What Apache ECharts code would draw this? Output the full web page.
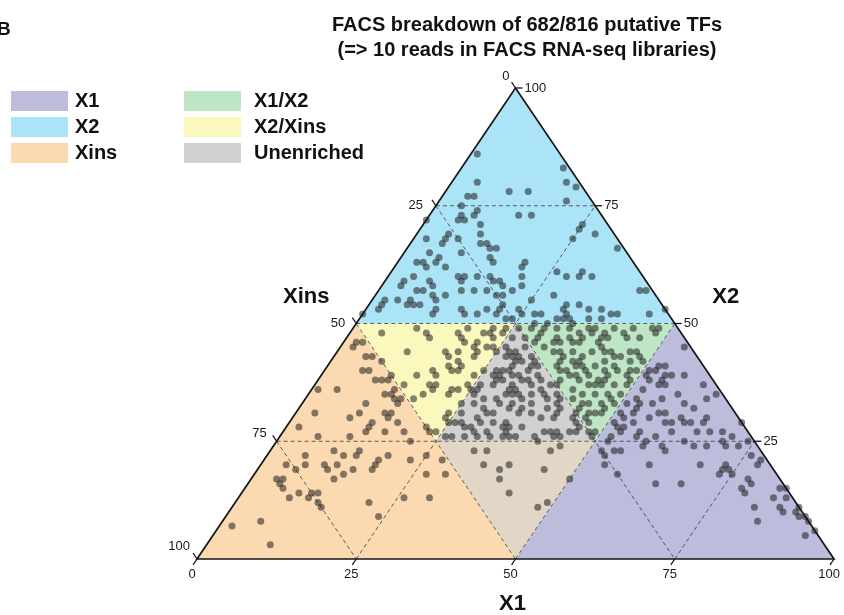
<!DOCTYPE html>
<html>
<head>
<meta charset="utf-8">
<title>FACS breakdown of putative TFs</title>
<script src="https://cdn.jsdelivr.net/npm/echarts@6/dist/echarts.min.js"></script>
<style>
  html, body { margin: 0; padding: 0; background: #ffffff; }
  #chart { width: 844px; height: 615px; }
</style>
</head>
<body>
<div id="chart"></div>
<script>
// Share of FACS reads for each TF, in percent: [X1, X2, Xins]
const tfShares = [
  [1,86,13],[4,80,16],[10,78,12],[13,78,9],[16,83,1],[18,80,2],[20,79,1],[20,76,4],[4,77,19],[5,77,18],
  [4,75,21],[7,74,19],[7,73,20],[5,73,22],[6,72,22],[14,73,13],[16,73,11],[5,72,23],[9,71,20],[0,72,28],
  [25,71,4],[25,70,5],[28,69,3],[10,69,21],[5,69,26],[5,68,27],[7,68,25],[5,67,28],[2,68,30],[11,67,22],
  [12,67,21],[13,66,21],[14,66,20],[25,68,7],[33,66,1],[9,65,26],[4,65,31],[14,64,22],[15,63,22],[6,64,30],
  [3,63,34],[4,63,33],[6,63,31],[8,62,30],[5,62,33],[20,63,17],[20,62,18],[21,60,19],[26,61,13],[30,61,9],
  [30,60,10],[28,60,12],[32,60,8],[3,59,38],[4,60,36],[3,58,39],[7,59,34],[8,58,34],[11,60,29],[12,60,28],
  [12,59,29],[14,60,26],[16,60,24],[17,59,24],[18,59,23],[19,58,23],[21,57,22],[22,58,20],[7,57,36],[6,57,37],
  [13,57,30],[15,57,28],[17,57,26],[19,56,25],[20,56,24],[9,56,35],[11,56,33],[2,55,43],[4,55,41],[6,55,39],
  [6,54,40],[8,54,38],[7,54,39],[10,55,35],[28,56,16],[41,57,2],[42,57,1],[2,53,45],[2,54,44],[0,52,48],
  [11,53,36],[11,52,37],[15,53,32],[16,52,32],[18,52,30],[19,53,28],[21,52,27],[21,54,25],[21,53,26],[25,55,20],
  [24,53,23],[25,52,23],[27,52,21],[28,52,20],[24,51,25],[23,51,26],[31,54,15],[31,53,16],[33,54,13],[35,53,12],
  [37,53,10],[32,52,16],[32,51,17],[33,51,16],[31,51,18],[36,51,13],[38,51,11],[40,52,8],[39,52,9],[45,52,3],
  [47,53,0],[30,50,20],[34,50,16],
  [2,46,52],[2,45,53],[3,46,51],[5,43,52],[6,43,51],[8,42,50],[6,40,54],[7,40,53],[9,38,53],[10,38,52],
  [11,38,51],[11,39,50],[1,36,63],[4,36,60],[13,36,51],[13,35,52],[12,35,53],[15,34,51],[14,34,52],[15,33,52],
  [10,33,57],[3,31,66],[9,30,61],[10,31,59],[14,31,55],[15,31,54],[15,30,55],[13,29,58],[13,28,59],[17,29,54],
  [2,28,70],[6,26,68],[11,26,63],[13,27,60],[16,27,57],[19,27,54],[23,27,50],[17,34,49],
  [21,25,54],[10,23,67],[6,22,72],[7,20,73],[12,22,66],[14,22,64],[14,23,63],[19,22,59],[18,21,61],[18,20,62],
  [23,21,56],[25,22,53],[28,21,51],[4,20,76],[6,19,75],[10,20,70],[11,19,70],[12,20,68],[14,18,68],[15,19,66],
  [18,19,63],[13,17,70],[27,18,55],[30,18,52],[4,17,79],[5,17,78],[5,16,79],[6,15,79],[8,13,79],[9,14,77],
  [11,13,76],[11,14,75],[12,14,74],[13,12,75],[14,11,75],[21,12,67],[26,13,61],[30,13,57],[24,9,67],[6,8,86],
  [2,7,91],[10,3,87],
  [5,48,47],[10,49,41],[12,48,40],[13,47,40],[11,44,45],[17,40,43],[15,39,46],[14,37,49],[18,37,45],[19,36,45],
  [18,35,47],[22,28,50],[17,48,35],[18,49,33],[21,48,31],[22,49,29],[23,47,30],[24,48,28],[18,47,35],[19,46,35],
  [21,46,33],[21,45,34],[23,45,32],[24,45,31],[22,44,34],[22,43,35],[17,44,39],[19,44,37],[18,43,39],[20,42,38],
  [19,41,40],[20,40,40],[21,41,38],[24,39,37],[18,39,43],[19,37,44],[22,35,43],[22,36,42],[25,33,42],[24,31,45],
  [24,30,46],[24,37,39],[25,36,39],[24,27,49],[22,48,30],[24,49,27],[21,40,39],[23,36,41],
  [26,45,29],[27,44,29],[28,43,29],[25,44,31],[29,42,29],[28,44,28],[27,39,34],[28,39,33],[28,38,34],[26,37,37],
  [28,37,35],[29,38,33],[31,36,33],[31,35,34],[32,36,32],[32,35,33],[31,37,32],[26,36,38],[26,35,39],[28,34,38],
  [31,33,36],[33,33,34],[29,32,39],[31,31,38],[26,31,43],[29,30,41],[30,29,41],[32,29,39],[34,29,37],[26,29,45],
  [28,28,44],[27,26,47],[29,26,45],[31,26,43],[33,26,41],[34,28,38],[29,41,30],[28,40,32],[25,40,35],
  [27,43,30],[27,40,33],[29,40,31],[30,39,31],[30,34,36],[27,33,40],[33,32,35],[30,31,39],[25,29,46],[27,29,44],
  [29,28,43],[30,27,43],[32,27,41],[35,27,38],[35,28,37],[35,26,39],[36,26,38],
  [26,47,27],[29,45,26],[31,43,26],[30,42,28],[32,40,28],[32,41,27],[34,39,27],[31,39,30],[32,38,30],[35,38,27],
  [34,37,29],[37,37,26],[36,36,28],[33,35,32],[34,34,32],[36,33,31],[38,34,28],[39,35,26],[40,33,27],[41,32,27],
  [35,31,34],[37,31,32],[39,30,31],[41,30,29],[44,30,26],[37,28,35],[41,27,32],[42,27,31],[43,27,30],[46,27,27],
  [46,28,26],[26,49,25],[29,43,28],[32,42,26],[33,41,26],[33,38,29],[35,35,30],[37,35,28],[38,37,25],[40,34,26],
  [35,32,33],[39,32,29],[41,31,28],[44,31,25],[45,29,26],[37,26,37],[40,26,34],[45,27,28],[26,26,48],[41,25,34],
  [43,26,31],[44,26,30],
  [28,49,23],[30,49,21],[32,49,19],[34,49,17],[36,48,16],[38,49,13],[40,48,12],[41,49,10],[44,49,7],[47,49,4],
  [48,49,3],[30,47,23],[32,45,23],[33,46,21],[34,46,20],[35,47,18],[37,47,16],[40,46,14],[41,47,12],[44,47,9],
  [46,47,7],[48,48,4],[34,44,22],[36,43,21],[37,44,19],[39,43,18],[40,44,16],[41,45,14],[42,44,14],[44,43,13],
  [46,44,10],[48,43,9],[49,42,9],[38,42,20],[39,42,19],[40,41,19],[42,41,17],[43,42,15],[45,41,14],[47,42,11],
  [49,40,11],[37,40,23],[40,39,21],[42,39,19],[44,38,18],[45,39,16],[48,39,13],[49,38,13],[41,38,21],[43,37,20],
  [45,37,18],[47,37,16],[49,37,14],[41,36,23],[43,35,22],[45,35,20],[47,35,18],[49,35,16],[44,33,23],[45,33,22],
  [47,33,20],[49,33,18],[46,31,23],[48,31,21],[47,29,24],[48,27,25],[49,27,24],
  [28,47,25],[30,46,24],[30,48,22],[33,47,20],[35,44,21],[36,46,18],[37,46,17],[38,48,14],[37,49,14],[40,47,13],
  [43,44,13],[43,48,9],[47,44,9],[45,43,12],[44,40,16],[39,41,20],[36,42,22],[36,41,23],[38,40,22],[41,40,19],
  [48,40,12],[46,40,14],[28,50,22],[38,38,24],[39,39,22],[44,37,19],[45,38,17],[48,34,18],[42,34,24],[44,32,24],
  [47,31,22],[48,32,20],[46,30,24],[49,26,25],
  [52,41,7],[51,40,9],[51,39,10],[54,39,7],[51,33,16],[52,34,14],[53,31,16],[52,30,18],[52,28,20],[52,26,22],
  [53,27,20],[52,25,23],[54,45,1],[53,41,6],[52,40,8],[55,39,6],[57,39,4],[61,37,2],[52,38,10],[54,38,8],
  [55,37,8],[54,37,9],[52,36,12],[58,35,7],[64,35,1],[53,33,14],[55,33,12],[56,34,10],[60,33,7],[63,34,3],
  [53,32,15],[57,31,12],[58,31,11],[61,30,9],[62,32,6],[65,30,5],[51,31,18],[51,29,20],[54,29,17],[59,29,12],
  [60,29,11],[62,29,9],[63,29,8],[65,29,6],[56,27,17],[56,26,18],[59,26,15],[61,27,12],[65,27,8],[67,27,6],
  [69,27,4],[71,26,3],[71,29,0],[56,30,14],[53,28,19],
  [50,17,33],[52,23,25],[53,22,25],[54,20,26],[54,23,23],[55,23,22],[57,18,25],[58,24,18],[58,25,17],[61,24,15],
  [62,23,15],[61,20,19],[64,16,20],[68,16,16],[64,25,11],[66,24,10],[68,24,8],[70,25,5],[71,24,5],[73,24,3],
  [74,25,1],[69,20,11],[73,20,7],[73,19,8],[73,18,9],[74,19,7],[75,18,7],[76,22,2],[78,20,2],[78,21,1],
  [78,17,5],[79,16,5],[78,15,7],[79,14,7],[84,15,1],[85,15,0],[86,13,1],[84,13,3],[86,11,3],[87,10,3],
  [89,10,1],[90,9,1],[89,11,0],[91,9,0],[92,8,0],[94,6,0],[93,5,2],[82,11,7],[84,8,8],
  [32,23,45],[34,23,43],[35,20,45],[38,19,43],[39,20,41],[39,17,44],[42,14,44],[44,23,33],[45,24,31],[45,19,36],
  [48,11,41],[49,12,39]
];

const baseTicks = [0, 25, 50, 75, 100];   // X1 along the base
const leftTicks = [0, 25, 50, 75, 100];   // Xins along the left side
const rightTicks = [25, 50, 75, 100];     // X2 along the right side
const gridLevels = [25, 50, 75];
const legendColumnA = ['X1', 'X2', 'Xins'];
const legendColumnB = ['X1/X2', 'X2/Xins', 'Unenriched'];

const zoneColors = {
  'X1': '#bcbcdd',
  'X2': '#abe3f7',
  'Xins': '#fbd9b1',
  'X1/X2': '#bfe6c4',
  'X2/Xins': '#fbf8be',
  'Unenriched': '#d1d1d1',
  'X1/Xins': '#e2d6c7'
};

// Enrichment zones, corners given as [X1, X2, Xins]
const zones = [
  { name: 'X2', corners: [[0, 100, 0], [0, 50, 50], [50, 50, 0]] },
  { name: 'Xins', corners: [[0, 0, 100], [50, 0, 50], [0, 50, 50]] },
  { name: 'X1', corners: [[100, 0, 0], [50, 50, 0], [50, 0, 50]] },
  { name: 'X2/Xins', corners: [[0, 50, 50], [25, 50, 25], [25, 25, 50]] },
  { name: 'X1/X2', corners: [[25, 50, 25], [50, 50, 0], [50, 25, 25]] },
  { name: 'Unenriched', corners: [[25, 50, 25], [25, 25, 50], [50, 25, 25]] },
  { name: 'X1/Xins', corners: [[25, 25, 50], [50, 25, 25], [50, 0, 50]] }
];

const SANS = '"Liberation Sans", Arial, Helvetica, sans-serif';
const TICK_FONT = '13px "Liberation Sans", Arial, sans-serif';

// nudges for the Xins labels on the left side, [dx, dy] from the side point
const leftLabelNudge = { 0: [-6, -12], 25: [-13, 0], 50: [-11, 0], 75: [-10, -8], 100: [-7, -13] };

// ternary share -> plane position (x along the X1 base, y = X2 height)
function toPlane(t) { return [t[0] + t[1] / 2, t[1]]; }

function renderZones(params, api) {
  const z = zones[params.dataIndex];
  return {
    type: 'polygon',
    shape: { points: z.corners.map(c => api.coord(toPlane(c))) },
    style: { fill: zoneColors[z.name] }
  };
}

function renderGrid(params, api) {
  const children = [];
  gridLevels.forEach(v => {
    const segs = [
      [[v, 0, 100 - v], [v, 100 - v, 0]],
      [[0, v, 100 - v], [100 - v, v, 0]],
      [[0, 100 - v, v], [100 - v, 0, v]]
    ];
    segs.forEach(s => {
      const p = api.coord(toPlane(s[0]));
      const q = api.coord(toPlane(s[1]));
      children.push({
        type: 'line',
        shape: { x1: p[0], y1: p[1], x2: q[0], y2: q[1] },
        style: { stroke: 'rgba(40,40,40,0.8)', lineWidth: 0.9, lineDash: [4, 3] }
      });
    });
  });
  return { type: 'group', children: children };
}

function renderFrame(params, api) {
  const children = [];
  const corners = [[0, 0, 100], [100, 0, 0], [0, 100, 0]].map(c => api.coord(toPlane(c)));
  children.push({
    type: 'polygon',
    shape: { points: corners },
    style: { fill: 'none', stroke: '#161616', lineWidth: 1.7 }
  });

  const TL = 7;
  const sides = [
    { // base: X1
      ticks: baseTicks, edge: v => [v, 0, 100 - v], inner: v => [v, 10, 90 - v],
      place: (v, e, t) => ({ x: t[0] - 1, y: t[1] + 3, align: 'center', va: 'top' })
    },
    { // left: Xins
      ticks: leftTicks, edge: v => [0, 100 - v, v], inner: v => [10, 90 - v, v],
      place: (v, e, t) => ({ x: e[0] + leftLabelNudge[v][0], y: e[1] + leftLabelNudge[v][1], align: 'right', va: 'middle' })
    },
    { // right: X2
      ticks: rightTicks, edge: v => [100 - v, v, 0], inner: v => [90 - v, v, 10],
      place: (v, e, t) => ({ x: t[0] + 2, y: e[1], align: 'left', va: 'middle' })
    }
  ];

  sides.forEach(side => {
    side.ticks.forEach(v => {
      const e = api.coord(toPlane(side.edge(v)));
      const i = api.coord(toPlane(side.inner(v)));
      const dx = e[0] - i[0], dy = e[1] - i[1];
      const len = Math.sqrt(dx * dx + dy * dy);
      const t = [e[0] + dx / len * TL, e[1] + dy / len * TL];
      children.push({
        type: 'line',
        shape: { x1: e[0], y1: e[1], x2: t[0], y2: t[1] },
        style: { stroke: '#161616', lineWidth: 1.3 }
      });
      const p = side.place(v, e, t);
      children.push({
        type: 'text',
        x: p.x, y: p.y,
        style: { text: String(v), fill: '#1a1a1a', font: TICK_FONT, align: p.align, verticalAlign: p.va }
      });
    });
  });

  const titleFont = 'bold 22px ' + SANS;
  const xinsAt = api.coord(toPlane([0, 50, 50]));
  const x2At = api.coord(toPlane([50, 50, 0]));
  const x1At = api.coord(toPlane([50, 0, 50]));
  children.push({ type: 'text', x: xinsAt[0] - 50, y: xinsAt[1] - 27,
    style: { text: 'Xins', fill: '#111', font: titleFont, align: 'center', verticalAlign: 'middle' } });
  children.push({ type: 'text', x: x2At[0] + 51, y: x2At[1] - 27,
    style: { text: 'X2', fill: '#111', font: titleFont, align: 'center', verticalAlign: 'middle' } });
  children.push({ type: 'text', x: x1At[0] - 3, y: x1At[1] + 45,
    style: { text: 'X1', fill: '#111', font: titleFont, align: 'center', verticalAlign: 'middle' } });

  return { type: 'group', children: children };
}

// legend swatches
const legendGraphics = [];
[[legendColumnA, 11, 75], [legendColumnB, 184, 254]].forEach(col => {
  col[0].forEach((name, k) => {
    const top = 91 + k * 26;
    legendGraphics.push({
      type: 'rect', left: col[1], top: top,
      shape: { width: 57, height: 20 },
      style: { fill: zoneColors[name] }
    });
    legendGraphics.push({
      type: 'text', x: col[2], y: top + 10,
      style: { text: name, fill: '#111', font: 'bold 20px ' + SANS, verticalAlign: 'middle', align: 'left' }
    });
  });
});
legendGraphics.push({
  type: 'text', x: -3, y: 30,
  style: { text: 'B', fill: '#111', font: 'bold 19px ' + SANS, verticalAlign: 'middle', align: 'left' }
});

const chart = echarts.init(document.getElementById('chart'), null, { renderer: 'canvas' });

chart.setOption({
  animation: false,
  backgroundColor: '#ffffff',
  title: {
    text: 'FACS breakdown of 682/816 putative TFs\n(=> 10 reads in FACS RNA-seq libraries)',
    left: 522, top: 8, textAlign: 'center',
    textStyle: { fontFamily: SANS, fontSize: 20, fontWeight: 'bold', color: '#111', lineHeight: 25 }
  },
  grid: { left: 197, top: 88, width: 637, height: 471, containLabel: false, outerBoundsMode: 'none' },
  xAxis: { type: 'value', min: 0, max: 100, show: false },
  yAxis: { type: 'value', min: 0, max: 100, show: false },
  graphic: legendGraphics,
  series: [
    {
      type: 'custom', name: 'zones', silent: true, z: 1,
      renderItem: renderZones,
      data: zones.map(() => [0, 0])
    },
    {
      type: 'custom', name: 'grid', silent: true, z: 2,
      renderItem: renderGrid,
      data: [[0, 0]]
    },
    {
      type: 'scatter', name: 'TFs', silent: true, z: 3,
      symbol: 'circle', symbolSize: 7,
      itemStyle: { color: 'rgba(28,28,28,0.68)' },
      data: tfShares.map(toPlane)
    },
    {
      type: 'custom', name: 'frame', silent: true, z: 4,
      renderItem: renderFrame,
      data: [[0, 0]]
    }
  ]
});
</script>
</body>
</html>
